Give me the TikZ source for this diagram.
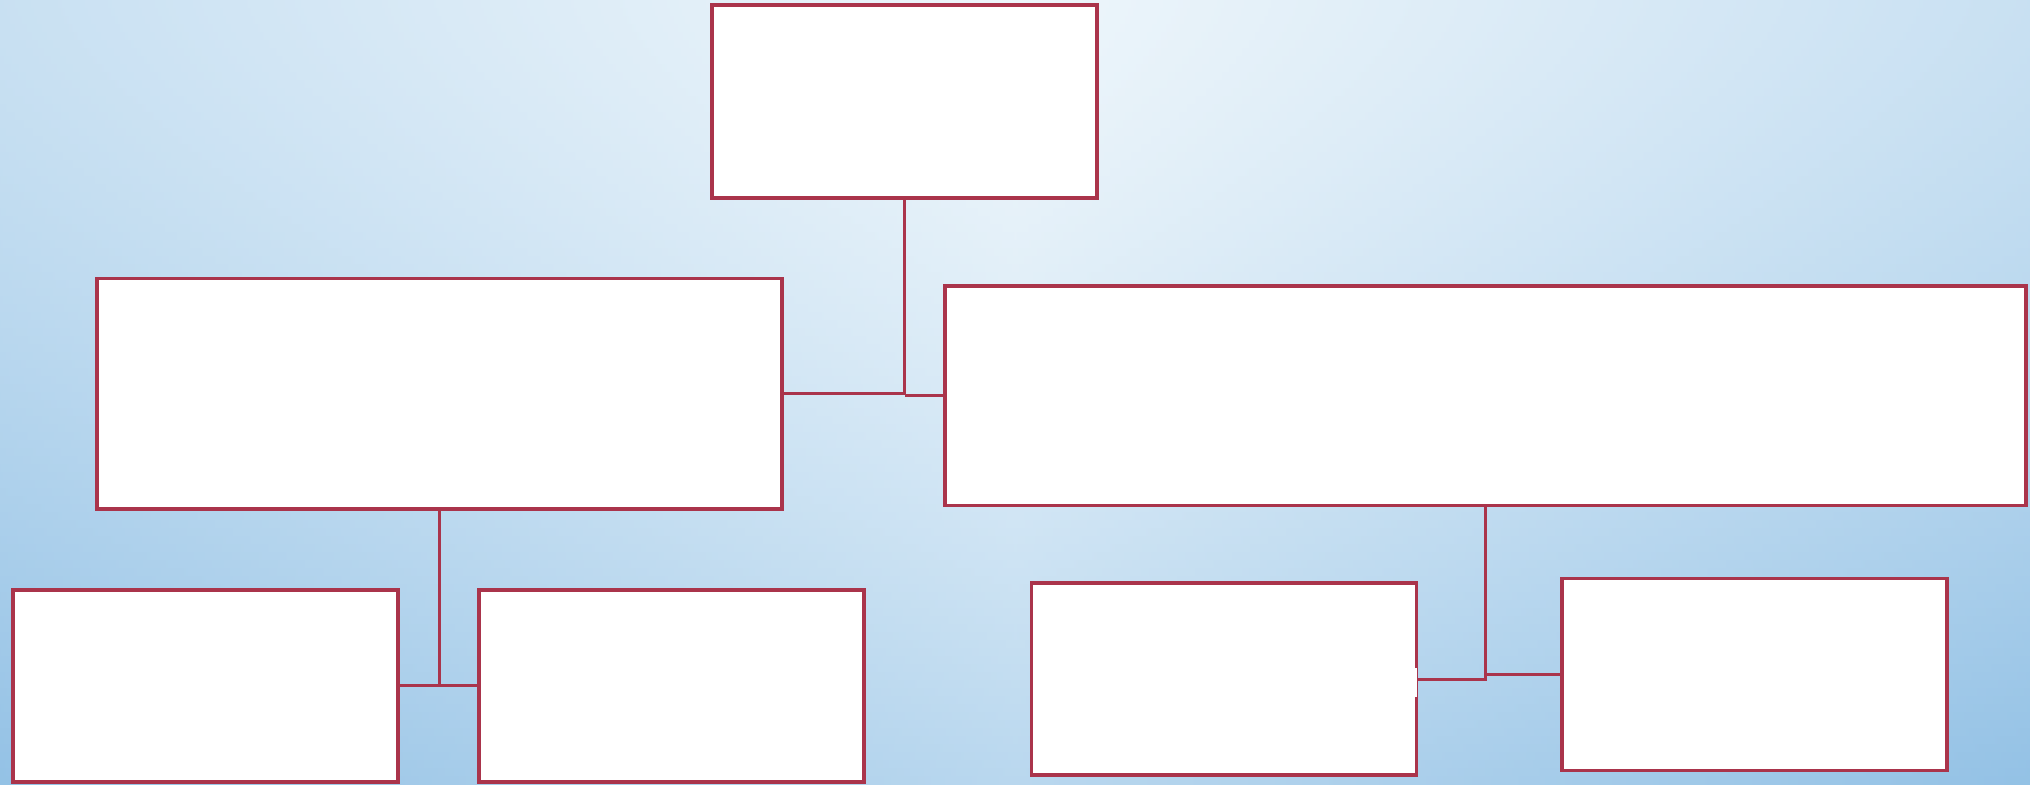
\documentclass[tikz,border=0pt]{standalone}
\usepackage{tikz}
\usetikzlibrary{positioning}
\definecolor{chartred}{HTML}{AA344B}
\definecolor{chartpale}{HTML}{EEF6FB}
\definecolor{chartsky}{HTML}{8ABCE3}
\tikzset{
  bx/.style={rectangle, draw=chartred, fill=white, line width=1.1pt, inner sep=0pt},
  unit/.style={bx, minimum width=38.5mm, minimum height=19.2mm},
  link/.style={draw=chartred, line width=0.85pt},
}

\begin{document}
\begin{tikzpicture}
  \useasboundingbox (0,0) rectangle (20.30,-7.84);
  % backdrop, lighter at the top middle
  \foreach \i in {0,...,97} {
    \pgfmathsetmacro\gy{50*pow((\i+0.5)*8/750,1.44)}
    \pgfmathsetmacro\ge{\gy+37.6}
    \colorlet{bandmid}{chartsky!\gy!chartpale}
    \colorlet{bandedge}{chartsky!\ge!chartpale}
    \shade[left color=bandedge, right color=bandedge, middle color=bandmid] (0,-\i*0.08) rectangle (20.30,-\i*0.08-0.085);
  }
  % top of the tree
  \node[bx, minimum width=38.5mm, minimum height=19.3mm] (head) at (9.045,-1.015) {};
  % second row
  \node[bx, minimum width=68.5mm, minimum height=23.05mm] (left) at (4.395,-3.9375) {};
  \node[bx, minimum width=108.1mm, minimum height=21.95mm] (right) at (14.855,-3.9575) {};
  % bottom row
  \node[unit] (leftA) at (2.0525,-6.8575) {};
  \node[unit] (leftB) at (6.7125,-6.8575) {};
  \node[unit] (rightA) at (12.24,-6.7925) {};
  \node[unit] (rightB) at (17.5475,-6.745) {};
  \fill[white] (14.14,-6.68) rectangle (14.17,-6.97);
  \draw[link] (head.south) |- (left.east); \draw[link] (head.south |- right.west) -- (right.west);
  \draw[link] (left.south) |- (leftA.east); \draw[link] (left.south |- leftB.west) -- (leftB.west);
  \draw[link] (right.south) |- (rightA.east); \draw[link] (right.south |- rightB.west) -- (rightB.west);
\end{tikzpicture}
\end{document}
